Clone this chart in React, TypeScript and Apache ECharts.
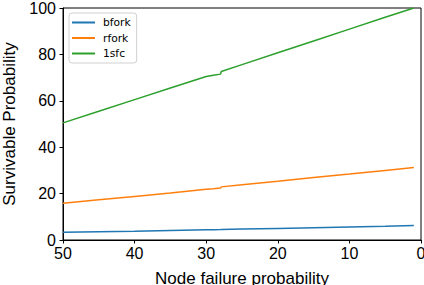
import React, { useEffect, useRef } from "react";
import * as echarts from "echarts";

const failureProb = [50, 45, 40, 35, 30, 29, 28, 27.9, 25, 20, 15, 10, 5, 1];
const bfork = [3.3, 3.6, 3.8, 4.1, 4.4, 4.45, 4.5, 4.55, 4.7, 5.0, 5.3, 5.6, 5.9, 6.2];
const rfork = [15.8, 17.3, 18.8, 20.3, 21.9, 22.1, 22.4, 22.9, 23.8, 25.3, 26.9, 28.4, 30.0, 31.2];
const sfc = [50.5, 55.5, 60.5, 65.5, 70.5, 71.0, 71.5, 72.6, 75.6, 80.7, 85.8, 90.9, 96.0, 100];
const seriesNames = ["bfork", "rfork", "1sfc"];
const colors = ["#1f77b4", "#ff7f0e", "#2ca02c"];

export default function App() {
  const ref = useRef<HTMLDivElement>(null);
  useEffect(() => {
    if (!ref.current) return;
    const chart = echarts.init(ref.current, null, { renderer: "svg" });
    const tickFont = { fontFamily: "Liberation Sans, Arial, sans-serif", fontSize: 16, color: "#000" };
    const seriesData = [bfork, rfork, sfc];
    chart.setOption({
      animation: false,
      grid: {
        left: 63,
        right: 3,
        top: 8,
        bottom: 45,
        containLabel: false,
        outerBoundsMode: "none",
        show: true,
        borderColor: "#000",
        borderWidth: 1,
        backgroundColor: "transparent",
      },
      legend: {
        left: 69,
        top: 13,
        orient: "vertical",
        data: seriesNames,
        icon: "rect",
        itemWidth: 23,
        itemHeight: 2,
        itemGap: 2.5,
        padding: [3, 6, 3, 3],
        backgroundColor: "#fff",
        borderColor: "#d0d0d0",
        borderWidth: 1,
        borderRadius: 3,
        textStyle: {
          fontFamily: "DejaVu Sans, sans-serif",
          fontSize: 10.7,
          color: "#000",
          lineHeight: 13,
          padding: [0, 0, 0, 3],
        },
      },
      xAxis: {
        type: "value",
        inverse: true,
        min: 0,
        max: 50,
        interval: 10,
        name: "Node failure probability",
        nameLocation: "middle",
        nameGap: 30,
        nameTextStyle: { fontFamily: "Liberation Sans, Arial, sans-serif", fontSize: 17, color: "#000", verticalAlign: "top" },
        axisLine: { show: true, onZero: false, lineStyle: { color: "#000", width: 1 } },
        axisTick: { show: true, inside: false, length: 3.5, lineStyle: { color: "#000" } },
        axisLabel: { ...tickFont, margin: 5 },
        splitLine: { show: false },
      },
      yAxis: {
        type: "value",
        min: 0,
        max: 100,
        interval: 20,
        name: "Survivable Probability",
        nameLocation: "middle",
        nameGap: 38,
        nameTextStyle: { fontFamily: "Liberation Sans, Arial, sans-serif", fontSize: 17, color: "#000" },
        axisLine: { show: true, onZero: false, lineStyle: { color: "#000", width: 1 } },
        axisTick: { show: true, inside: false, length: 3.5, lineStyle: { color: "#000" } },
        axisLabel: { ...tickFont, margin: 7 },
        splitLine: { show: false },
      },
      series: seriesNames.map((name, i) => ({
        name,
        type: "line",
        symbol: "none",
        color: colors[i],
        lineStyle: { width: 1.5, color: colors[i] },
        data: failureProb.map((x, j) => [x, seriesData[i][j]]),
      })),
    });
    return () => chart.dispose();
  }, []);
  return <div ref={ref} style={{ width: 424, height: 285, position: "absolute", left: 0, top: 0 }} />;
}
